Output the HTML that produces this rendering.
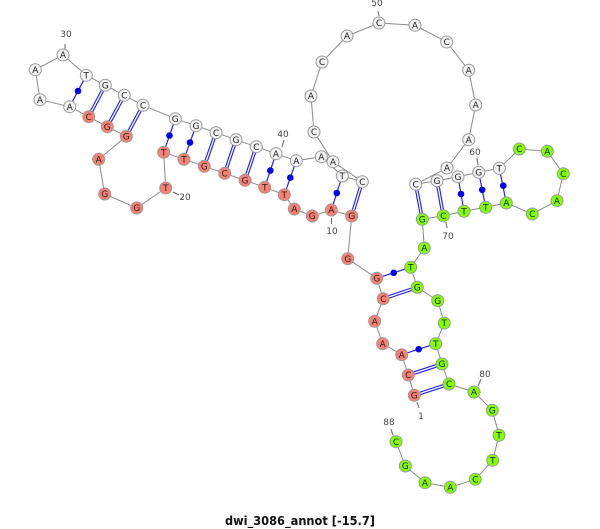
<!DOCTYPE html>
<html><head><meta charset="utf-8"><style>
html,body{margin:0;padding:0;background:#fff}
svg{display:block}
.n text,.l{font-family:"DejaVu Sans","Liberation Sans",sans-serif}
.n text{font-size:9px;fill:#222;text-anchor:middle}
.l{font-size:9px;fill:#444;text-anchor:middle}
.n circle{stroke:#999;stroke-width:1}
.w circle{fill:#f2f2f2}.r circle{fill:#fa8072}.g circle{fill:#7fff00}
</style></head><body>
<svg width="600" height="529" viewBox="0 0 600 529" xmlns="http://www.w3.org/2000/svg">
<path fill="none" stroke="#8a8a8a" stroke-width="1" d="M414.3 395.3L408.3 375L401.7 354.7L382.7 343.7L374.7 321.3L383.3 298.7L376.7 278.3L347.7 258.7L351.7 216L331.3 210L312.3 216L294.3 209L284.3 194.7L264.7 187.3L245 180.3L224.7 173.3L204.3 166.3L184 159.3L163.7 152.3L165.7 188L136.7 208L104.7 194L98.7 159.3L126.3 136.3L107.3 126.7L88.7 116.7L69.7 106.7L40 99.7L35.3 69.7L63 55L86.3 75.3L105.3 85.3L124.3 95.3L143 105.3L175.3 118.7L196 125.7L216 132.7L236 139.7L256.3 146.7L276 153.7L296.3 160.7L321.3 156.7L342.3 176L362.3 181.7L333 161.7L314 132L311 96L322 62L347 36L379 23L415 25.3L446.7 42L468.7 70.3L475.7 105L468.7 139.7L447 168L415.7 184.3L437 180.7L458 176.7L478.7 172.3L499.3 168.3L519.3 149L547.3 151.3L563.3 173.7L557 200.7L532.3 214L506.3 203L485.7 207.3L464 211.3L443.3 215.7L422.3 219.3L424.3 248L410.7 267.3L417.3 287.3L437.7 300.7L444.3 323L435.7 343.7L442 364L449 384L474 392L492.3 410.3L499 435.3L492.7 460.3L475.3 479.3L450.3 487.3L425 482.7L405.3 466L396 441.7"/>
<path fill="none" stroke="#666" stroke-width="1" d="M65 44V50M179 195L173 192M284 140L282 147M331.500 218V224M378 11L379 16M477 158L478 165M446 222L447 228M481 379L478 386M391 429L393 435M417 402L419 408"/>
<path fill="none" stroke="#2222ee" stroke-width="1.200" d="M401.700 354.700L435.700 343.700M376.700 278.300L410.700 267.300M331.300 210L342.300 176M284.300 194.700L296.300 160.700M264.700 187.300L276 153.700M184 159.300L196 125.700M163.700 152.300L175.300 118.700M69.700 106.700L86.300 75.300M464 211.300L458 176.700M485.700 207.300L478.700 172.300M506.300 203L499.300 168.300"/>
<path fill="none" stroke="#2222ee" stroke-width="3.600" d="M414.300 395.300L449 384M408.300 375L442 364M383.300 298.700L417.300 287.300M351.700 216L362.300 181.700M245 180.300L256.300 146.700M224.700 173.300L236 139.700M204.300 166.300L216 132.700M126.300 136.300L143 105.300M107.300 126.700L124.300 95.300M88.700 116.700L105.300 85.300M422.300 219.300L415.700 184.300M443.300 215.700L437 180.700"/>
<path fill="none" stroke="#fff" stroke-width="1.300" d="M414.300 395.300L449 384M408.300 375L442 364M383.300 298.700L417.300 287.300M351.700 216L362.300 181.700M245 180.300L256.300 146.700M224.700 173.300L236 139.700M204.300 166.300L216 132.700M126.300 136.300L143 105.300M107.300 126.700L124.300 95.300M88.700 116.700L105.300 85.300M422.300 219.300L415.700 184.300M443.300 215.700L437 180.700"/>
<g fill="#0000ee"><circle cx="418.700" cy="349.200" r="3.300"/><circle cx="393.700" cy="272.800" r="3.300"/><circle cx="336.800" cy="193" r="3.300"/><circle cx="290.300" cy="177.700" r="3.300"/><circle cx="270.300" cy="170.500" r="3.300"/><circle cx="190" cy="142.500" r="3.300"/><circle cx="169.500" cy="135.500" r="3.300"/><circle cx="78" cy="91" r="3.300"/><circle cx="461" cy="194" r="3.300"/><circle cx="482.200" cy="189.800" r="3.300"/><circle cx="503.300" cy="185.700" r="3.300"/></g>
<g class="n r">
<circle cx="414.300" cy="395.300" r="6"/><text x="414.300" y="398.500">G</text>
<circle cx="408.300" cy="375" r="6"/><text x="408.300" y="378.200">C</text>
<circle cx="401.700" cy="354.700" r="6"/><text x="401.700" y="357.900">A</text>
<circle cx="382.700" cy="343.700" r="6"/><text x="382.700" y="346.900">A</text>
<circle cx="374.700" cy="321.300" r="6"/><text x="374.700" y="324.500">A</text>
<circle cx="383.300" cy="298.700" r="6"/><text x="383.300" y="301.900">C</text>
<circle cx="376.700" cy="278.300" r="6"/><text x="376.700" y="281.500">G</text>
<circle cx="347.700" cy="258.700" r="6"/><text x="347.700" y="261.900">G</text>
<circle cx="351.700" cy="216" r="6"/><text x="351.700" y="219.200">G</text>
<circle cx="331.300" cy="210" r="6"/><text x="331.300" y="213.200">A</text>
<circle cx="312.300" cy="216" r="6"/><text x="312.300" y="219.200">G</text>
<circle cx="294.300" cy="209" r="6"/><text x="294.300" y="212.200">A</text>
<circle cx="284.300" cy="194.700" r="6"/><text x="284.300" y="197.900">T</text>
<circle cx="264.700" cy="187.300" r="6"/><text x="264.700" y="190.500">T</text>
<circle cx="245" cy="180.300" r="6"/><text x="245" y="183.500">G</text>
<circle cx="224.700" cy="173.300" r="6"/><text x="224.700" y="176.500">C</text>
<circle cx="204.300" cy="166.300" r="6"/><text x="204.300" y="169.500">G</text>
<circle cx="184" cy="159.300" r="6"/><text x="184" y="162.500">T</text>
<circle cx="163.700" cy="152.300" r="6"/><text x="163.700" y="155.500">T</text>
<circle cx="165.700" cy="188" r="6"/><text x="165.700" y="191.200">T</text>
<circle cx="136.700" cy="208" r="6"/><text x="136.700" y="211.200">G</text>
<circle cx="104.700" cy="194" r="6"/><text x="104.700" y="197.200">G</text>
<circle cx="98.700" cy="159.300" r="6"/><text x="98.700" y="162.500">A</text>
<circle cx="126.300" cy="136.300" r="6"/><text x="126.300" y="139.500">G</text>
<circle cx="107.300" cy="126.700" r="6"/><text x="107.300" y="129.900">G</text>
<circle cx="88.700" cy="116.700" r="6"/><text x="88.700" y="119.900">C</text>
</g>
<g class="n w">
<circle cx="69.700" cy="106.700" r="6"/><text x="69.700" y="109.900">A</text>
<circle cx="40" cy="99.700" r="6"/><text x="40" y="102.900">A</text>
<circle cx="35.300" cy="69.700" r="6"/><text x="35.300" y="72.900">A</text>
<circle cx="63" cy="55" r="6"/><text x="63" y="58.200">A</text>
<circle cx="86.300" cy="75.300" r="6"/><text x="86.300" y="78.500">T</text>
<circle cx="105.300" cy="85.300" r="6"/><text x="105.300" y="88.500">G</text>
<circle cx="124.300" cy="95.300" r="6"/><text x="124.300" y="98.500">C</text>
<circle cx="143" cy="105.300" r="6"/><text x="143" y="108.500">C</text>
<circle cx="175.300" cy="118.700" r="6"/><text x="175.300" y="121.900">G</text>
<circle cx="196" cy="125.700" r="6"/><text x="196" y="128.900">G</text>
<circle cx="216" cy="132.700" r="6"/><text x="216" y="135.900">C</text>
<circle cx="236" cy="139.700" r="6"/><text x="236" y="142.900">G</text>
<circle cx="256.300" cy="146.700" r="6"/><text x="256.300" y="149.900">C</text>
<circle cx="276" cy="153.700" r="6"/><text x="276" y="156.900">A</text>
<circle cx="296.300" cy="160.700" r="6"/><text x="296.300" y="163.900">A</text>
<circle cx="321.300" cy="156.700" r="6"/><text x="321.300" y="159.900">A</text>
<circle cx="342.300" cy="176" r="6"/><text x="342.300" y="179.200">T</text>
<circle cx="362.300" cy="181.700" r="6"/><text x="362.300" y="184.900">C</text>
<circle cx="333" cy="161.700" r="6"/><text x="333" y="164.900">A</text>
<circle cx="314" cy="132" r="6"/><text x="314" y="135.200">C</text>
<circle cx="311" cy="96" r="6"/><text x="311" y="99.200">A</text>
<circle cx="322" cy="62" r="6"/><text x="322" y="65.200">C</text>
<circle cx="347" cy="36" r="6"/><text x="347" y="39.200">A</text>
<circle cx="379" cy="23" r="6"/><text x="379" y="26.200">C</text>
<circle cx="415" cy="25.300" r="6"/><text x="415" y="28.500">A</text>
<circle cx="446.700" cy="42" r="6"/><text x="446.700" y="45.200">C</text>
<circle cx="468.700" cy="70.300" r="6"/><text x="468.700" y="73.500">A</text>
<circle cx="475.700" cy="105" r="6"/><text x="475.700" y="108.200">A</text>
<circle cx="468.700" cy="139.700" r="6"/><text x="468.700" y="142.900">A</text>
<circle cx="447" cy="168" r="6"/><text x="447" y="171.200">A</text>
<circle cx="415.700" cy="184.300" r="6"/><text x="415.700" y="187.500">C</text>
<circle cx="437" cy="180.700" r="6"/><text x="437" y="183.900">G</text>
<circle cx="458" cy="176.700" r="6"/><text x="458" y="179.900">G</text>
<circle cx="478.700" cy="172.300" r="6"/><text x="478.700" y="175.500">G</text>
<circle cx="499.300" cy="168.300" r="6"/><text x="499.300" y="171.500">T</text>
</g>
<g class="n g">
<circle cx="519.300" cy="149" r="6"/><text x="519.300" y="152.200">C</text>
<circle cx="547.300" cy="151.300" r="6"/><text x="547.300" y="154.500">A</text>
<circle cx="563.300" cy="173.700" r="6"/><text x="563.300" y="176.900">C</text>
<circle cx="557" cy="200.700" r="6"/><text x="557" y="203.900">A</text>
<circle cx="532.300" cy="214" r="6"/><text x="532.300" y="217.200">C</text>
<circle cx="506.300" cy="203" r="6"/><text x="506.300" y="206.200">A</text>
<circle cx="485.700" cy="207.300" r="6"/><text x="485.700" y="210.500">T</text>
<circle cx="464" cy="211.300" r="6"/><text x="464" y="214.500">T</text>
<circle cx="443.300" cy="215.700" r="6"/><text x="443.300" y="218.900">C</text>
<circle cx="422.300" cy="219.300" r="6"/><text x="422.300" y="222.500">G</text>
<circle cx="424.300" cy="248" r="6"/><text x="424.300" y="251.200">A</text>
<circle cx="410.700" cy="267.300" r="6"/><text x="410.700" y="270.500">T</text>
<circle cx="417.300" cy="287.300" r="6"/><text x="417.300" y="290.500">G</text>
<circle cx="437.700" cy="300.700" r="6"/><text x="437.700" y="303.900">G</text>
<circle cx="444.300" cy="323" r="6"/><text x="444.300" y="326.200">T</text>
<circle cx="435.700" cy="343.700" r="6"/><text x="435.700" y="346.900">T</text>
<circle cx="442" cy="364" r="6"/><text x="442" y="367.200">G</text>
<circle cx="449" cy="384" r="6"/><text x="449" y="387.200">C</text>
<circle cx="474" cy="392" r="6"/><text x="474" y="395.200">A</text>
<circle cx="492.300" cy="410.300" r="6"/><text x="492.300" y="413.500">G</text>
<circle cx="499" cy="435.300" r="6"/><text x="499" y="438.500">T</text>
<circle cx="492.700" cy="460.300" r="6"/><text x="492.700" y="463.500">T</text>
<circle cx="475.300" cy="479.300" r="6"/><text x="475.300" y="482.500">C</text>
<circle cx="450.300" cy="487.300" r="6"/><text x="450.300" y="490.500">A</text>
<circle cx="425" cy="482.700" r="6"/><text x="425" y="485.900">A</text>
<circle cx="405.300" cy="466" r="6"/><text x="405.300" y="469.200">G</text>
<circle cx="396" cy="441.700" r="6"/><text x="396" y="444.900">C</text>
</g>
<text class="l" x="66" y="37">30</text>
<text class="l" x="185" y="200">20</text>
<text class="l" x="283" y="137">40</text>
<text class="l" x="332" y="234">10</text>
<text class="l" x="377" y="6">50</text>
<text class="l" x="475" y="155">60</text>
<text class="l" x="448" y="239">70</text>
<text class="l" x="485" y="377">80</text>
<text class="l" x="389" y="425">88</text>
<text class="l" x="421" y="419">1</text>
<text x="300" y="525" text-anchor="middle" textLength="150" lengthAdjust="spacingAndGlyphs" style="font-family:'DejaVu Sans','Liberation Sans',sans-serif;font-weight:bold;font-size:12px;fill:#111">dwi_3086_annot [-15.7]</text>
</svg>
</body></html>
